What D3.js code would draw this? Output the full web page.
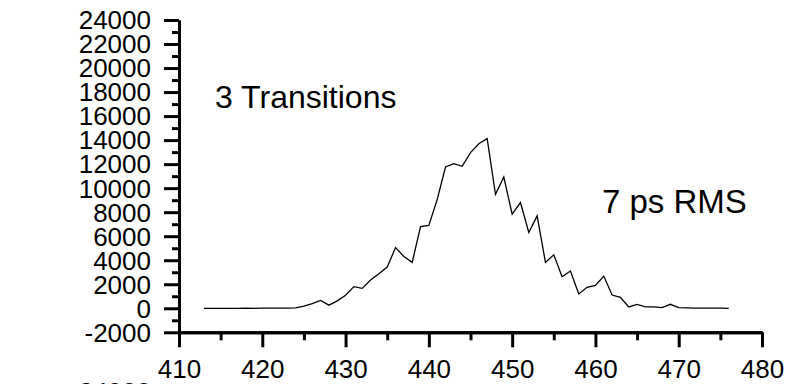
<!DOCTYPE html>
<html>
<head>
<meta charset="utf-8">
<script src="https://cdn.jsdelivr.net/npm/d3@7"></script>
<style>
  html, body { margin: 0; padding: 0; background: #fff; }
  svg { display: block; }
  text { font-family: "Liberation Sans", Arial, sans-serif; fill: #000; }
</style>
</head>
<body>
<svg id="chart" width="796" height="384"></svg>
<script>
// --- data ---
const delays = [413, 414, 415, 416, 417, 418, 419, 420, 421, 422, 423, 424, 425, 426, 427, 428,
  429, 430, 431, 432, 433, 434, 435, 436, 437, 438, 439, 440, 441, 442, 443, 444,
  445, 446, 447, 448, 449, 450, 451, 452, 453, 454, 455, 456, 457, 458, 459, 460,
  461, 462, 463, 464, 465, 466, 467, 468, 469, 470, 471, 472, 473, 474, 475, 476];
const counts = [0, 0, 0, 0, 0, 10, 0, 20, 10, 20, 20, 30, 180, 380, 650, 260,
  620, 1080, 1800, 1660, 2350, 2880, 3430, 5050, 4310, 3820, 6800, 6900, 9050, 11760, 12040, 11820,
  12960, 13700, 14120, 9490, 10930, 7830, 8800, 6310, 7690, 3820, 4450, 2625, 3100, 1190, 1745, 1910,
  2680, 1105, 910, 110, 330, 110, 110, 50, 330, 50, 30, 20, 10, 10, 10, 0];

const xMajor = [410, 420, 430, 440, 450, 460, 470, 480];
const xMinor = [415, 425, 435, 445, 455, 465, 475];
const yMajor = [-2000, 0, 2000, 4000, 6000, 8000, 10000, 12000, 14000, 16000, 18000, 20000, 22000, 24000];
const yMinor = [-1000, 1000, 3000, 5000, 7000, 9000, 11000, 13000, 15000, 17000, 19000, 21000, 23000];

const notes = ["3 Transitions", "7 ps RMS"];

const svg = d3.select("#chart");

const x = d3.scaleLinear().domain([410, 480]).range([179, 762]);
const y = d3.scaleLinear().domain([-2000, 24000]).range([332.3, 20]);

// plain hyphen for negatives, like the original
const fmt = d => String(d);

// y axis: minor ticks first, then major ticks with labels
const yMinorAxis = d3.axisLeft(y).tickValues(yMinor).tickSize(7).tickSizeOuter(0).tickFormat("");
const yAxis = d3.axisLeft(y).tickValues(yMajor).tickSize(15).tickSizeOuter(0).tickPadding(13).tickFormat(fmt);

const gy = svg.append("g").attr("transform", "translate(179,0)");
gy.append("g").call(yMinorAxis);
gy.append("g").call(yAxis);

// x axis sits at the -2000 level
const xMinorAxis = d3.axisBottom(x).tickValues(xMinor).tickSize(8).tickSizeOuter(0).tickFormat("");
const xAxis = d3.axisBottom(x).tickValues(xMajor).tickSize(15).tickSizeOuter(0).tickPadding(12).tickFormat(fmt);

const gx = svg.append("g").attr("transform", `translate(0,${y(-2000)})`);
gx.append("g").call(xMinorAxis);
gx.append("g").call(xAxis);

svg.selectAll(".domain").attr("stroke", "#000").attr("stroke-width", 3);
svg.selectAll(".tick line").attr("stroke", "#000").attr("stroke-width", 3);
svg.selectAll(".tick text")
  .style("font-family", "'Liberation Sans', Arial, sans-serif")
  .style("font-size", "26px")
  .attr("fill", "#000");
gy.selectAll(".tick text").attr("dy", "0.34em");
gx.selectAll(".tick text").attr("dy", "0.71em");

// the histogram trace
const line = d3.line()
  .x((d, i) => x(delays[i]))
  .y(d => y(d));

svg.append("path")
  .datum(counts)
  .attr("fill", "none")
  .attr("stroke", "#000")
  .attr("stroke-width", 1.3)
  .attr("stroke-linejoin", "miter")
  .attr("d", line);

// annotations
svg.append("text")
  .attr("x", 215).attr("y", 108)
  .style("font-size", "32px")
  .text(notes[0]);

svg.append("text")
  .attr("x", 602).attr("y", 213)
  .style("font-size", "33px")
  .text(notes[1]);

// top label of the next panel, cut off by the page edge
svg.append("text")
  .attr("x", 151).attr("y", 401)
  .attr("text-anchor", "end")
  .style("font-size", "26px")
  .text(fmt(24000));
</script>
</body>
</html>
